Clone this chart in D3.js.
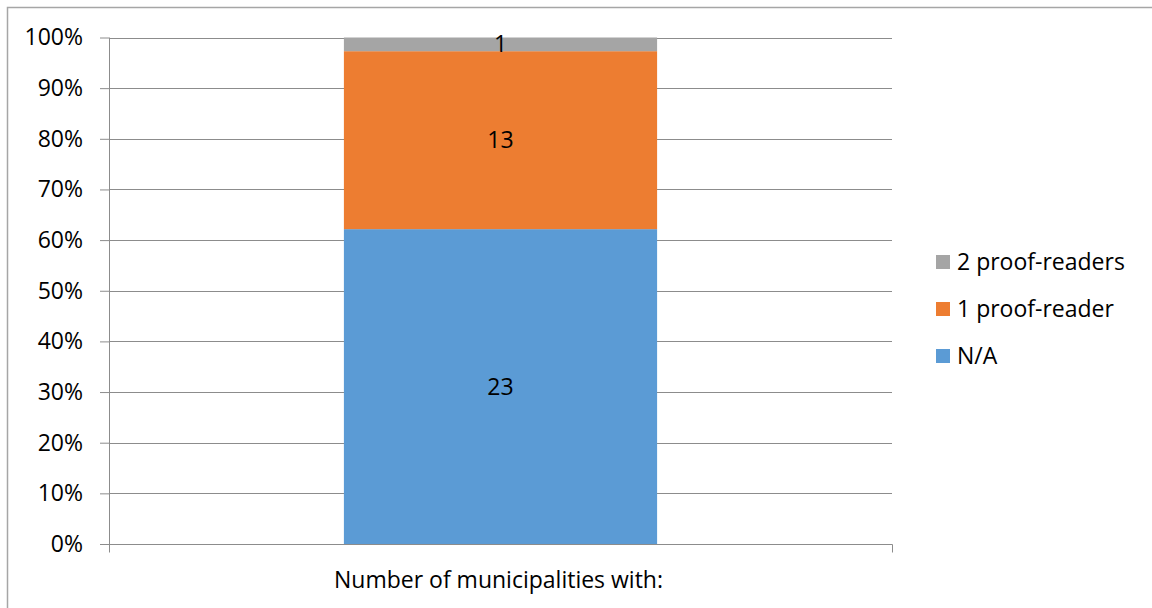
<!DOCTYPE html>
<html>
<head>
<meta charset="utf-8">
<script src="https://cdn.jsdelivr.net/npm/d3@7"></script>
<style>
  html, body { margin: 0; padding: 0; background: #fff; }
  svg { display: block; font-family: "Open Sans", sans-serif; }
</style>
</head>
<body>
<svg id="chart" width="1152" height="608"></svg>
<script>
// Stacked 100% column: how many proof-readers each municipality has
const categories = ["Number of municipalities with:"];
const seriesNames = ["N/A", "1 proof-reader", "2 proof-readers"];
const seriesValues = {
  "N/A": [23],
  "1 proof-reader": [13],
  "2 proof-readers": [1]
};
const seriesColors = ["#5B9BD5", "#ED7D31", "#A5A5A5"];
const yTicks = [0, 0.1, 0.2, 0.3, 0.4, 0.5, 0.6, 0.7, 0.8, 0.9, 1.0];

const FONT = "'Open Sans', sans-serif";
const FS = 23;

const svg = d3.select("#chart");
const plot = { left: 109, right: 892, top: 37.5, bottom: 544 };

// chart frame
svg.append("rect")
  .attr("x", 7.5).attr("y", 7.5)
  .attr("width", 1152).attr("height", 608)
  .attr("fill", "none").attr("stroke", "#A6A6A6").attr("stroke-width", 1.5);

const x = d3.scaleBand()
  .domain(categories)
  .range([plot.left, plot.right])
  .paddingInner(0.6).paddingOuter(0.3);

const y = d3.scaleLinear().domain([0, 1]).range([plot.bottom, plot.top]);

// rows of the table, normalised per category
const rows = categories.map((c, i) => {
  const row = { category: c };
  const total = d3.sum(seriesNames, s => seriesValues[s][i]);
  seriesNames.forEach(s => { row[s] = seriesValues[s][i]; row[s + "_share"] = seriesValues[s][i] / total; });
  return row;
});

const stack = d3.stack().keys(seriesNames.map(s => s + "_share"));
const layers = stack(rows);

// gridlines
svg.append("g")
  .selectAll("line")
  .data(yTicks)
  .join("line")
  .attr("x1", plot.left).attr("x2", plot.right)
  .attr("y1", d => Math.round(y(d)) + 0.5).attr("y2", d => Math.round(y(d)) + 0.5)
  .attr("stroke", "#8C8C8C").attr("stroke-width", 1);

// y axis
const yAxis = d3.axisLeft(y).tickValues(yTicks).tickFormat(d3.format(".0%"))
  .tickSize(9).tickPadding(17);
const yg = svg.append("g").attr("transform", `translate(${plot.left},0)`).call(yAxis);
yg.select(".domain").attr("stroke", "#8C8C8C").attr("d", `M0.5,${plot.top}V${plot.bottom + 8}`);
yg.selectAll(".tick line").attr("stroke", "#8C8C8C");
yg.selectAll(".tick text").attr("font-size", FS).attr("fill", "#000")
  .attr("font-family", FONT);

// x axis
const xAxis = d3.axisBottom(x).tickSize(0).tickPadding(27);
const xg = svg.append("g").attr("transform", `translate(0,${Math.round(plot.bottom) + 0.5})`).call(xAxis);
xg.select(".domain").attr("stroke", "#8C8C8C")
  .attr("d", `M${plot.left + 0.5},8V0H${plot.right + 0.5}V8`);
xg.selectAll(".tick text").attr("font-size", FS).attr("fill", "#000")
  .attr("font-family", FONT).attr("dx", -2);

// stacked segments
const segG = svg.append("g");
layers.forEach((layer, li) => {
  const name = seriesNames[li];
  segG.append("g").selectAll("rect")
    .data(layer)
    .join("rect")
    .attr("x", d => x(d.data.category))
    .attr("width", x.bandwidth())
    .attr("y", d => y(d[1]))
    .attr("height", d => y(d[0]) - y(d[1]))
    .attr("fill", seriesColors[li]);
  segG.append("g").selectAll("text")
    .data(layer)
    .join("text")
    .attr("x", d => x(d.data.category) + x.bandwidth() / 2)
    .attr("y", d => (y(d[0]) + y(d[1])) / 2)
    .attr("dy", "0.35em")
    .attr("text-anchor", "middle")
    .attr("font-size", FS)
    .attr("fill", "#000")
    .text(d => d.data[name]);
});

// legend, top entry is the last series
const legendItems = seriesNames.slice().reverse();
const legend = svg.append("g").attr("transform", "translate(936,262)");
legendItems.forEach((name, i) => {
  const g = legend.append("g").attr("transform", `translate(0,${i * 47})`);
  g.append("rect").attr("x", 0).attr("y", -7).attr("width", 14).attr("height", 14)
    .attr("fill", seriesColors[seriesNames.indexOf(name)]);
  g.append("text").attr("x", 21).attr("y", 0).attr("dy", "0.35em")
    .attr("font-size", FS).attr("fill", "#000").text(name);
});
</script>
</body>
</html>
